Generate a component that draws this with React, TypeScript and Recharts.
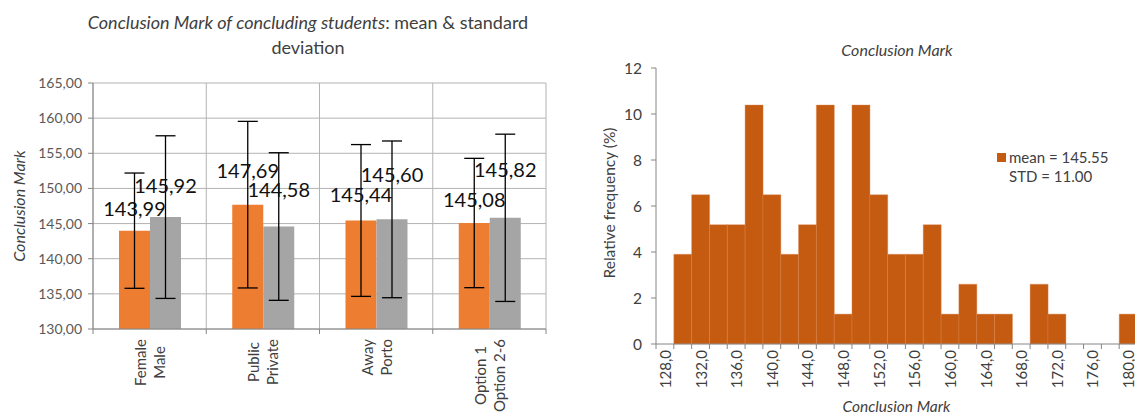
import { Bar, BarChart, CartesianGrid, ErrorBar, LabelList, Legend, XAxis, YAxis } from 'recharts'

// left chart: mean & standard deviation per pair of groups
const groupA = ['Female', 'Public', 'Away', 'Option 1']
const groupB = ['Male', 'Private', 'Porto', 'Option 2-6']
const meanA = [143.99, 147.69, 145.44, 145.08]
const meanB = [145.92, 144.58, 145.6, 145.82]
const sdA = [8.2, 11.85, 10.8, 9.2]
const sdB = [11.57, 10.5, 11.15, 11.9]
const markTicks = [130, 135, 140, 145, 150, 155, 160, 165]

// right chart: histogram of the conclusion mark (bins of 2)
const binStarts = [128, 130, 132, 134, 136, 138, 140, 142, 144, 146, 148, 150, 152, 154, 156, 158, 160, 162, 164, 166, 168, 170, 172, 174, 176, 178, 180]
const relFreq = [0, 3.9, 6.49, 5.19, 5.19, 10.39, 6.49, 3.9, 5.19, 10.39, 1.3, 10.39, 6.49, 3.9, 3.9, 5.19, 1.3, 2.6, 1.3, 1.3, 0, 2.6, 1.3, 0, 0, 0, 1.3]
const freqTicks = [0, 2, 4, 6, 8, 10, 12]
const meanText = 'mean = 145.55'
const stdText = 'STD = 11.00'

// label lift above the bar top (labels were hand placed in the original)
const liftA = [23, 35, 26, 24]
const liftB = [32, 38, 45, 49]

const FONT = 'Lato, "Open Sans", sans-serif'
const AXIS = '#868686'
const GRID = '#b3b3b3'

const fmt = (v: number, d: number) => v.toFixed(d).replace('.', ',')

let ctx: CanvasRenderingContext2D | null = null
function textWidth(text: string, size: number) {
  if (!ctx) ctx = document.createElement('canvas').getContext('2d')
  if (!ctx) return text.length * size * 0.5
  ctx.font = `${size}px Lato`
  return ctx.measureText(text).width
}

const groupData = groupA.map((a, i) => ({
  key: `${a}\n${groupB[i]}`,
  a: meanA[i],
  b: meanB[i],
  sdA: sdA[i],
  sdB: sdB[i],
}))

const histData = binStarts.map((bin, i) => ({ bin: fmt(bin, 1), freq: relFreq[i] }))

function GroupTick(props: any) {
  const { x, y, payload, index, visibleTicksCount } = props
  const half = payload.offset ?? 56.6
  const lines = String(payload.value).split('\n')
  const size = 15
  const longest = Math.max(...lines.map((l) => textWidth(l, size)))
  const shift = 10 + longest / 2
  return (
    <g>
      <line x1={x - half} x2={x - half} y1={y} y2={y + 5} stroke={AXIS} />
      {index === visibleTicksCount - 1 && <line x1={x + half} x2={x + half} y1={y} y2={y + 5} stroke={AXIS} />}
      <g transform={`translate(${x},${y}) rotate(-90)`}>
        {lines.map((l, i) => (
          <text
            key={i}
            x={-shift}
            y={(i - (lines.length - 1) / 2) * 19}
            textAnchor="middle"
            dominantBaseline="central"
            fontSize={size}
            fontFamily={FONT}
            fill="#404040"
          >
            {l}
          </text>
        ))}
      </g>
    </g>
  )
}

function HistTick(props: any) {
  const { x, y, payload, index, visibleTicksCount } = props
  const half = payload.offset ?? 8.9
  return (
    <g>
      <line x1={x - half} x2={x - half} y1={y} y2={y + 5} stroke={AXIS} />
      {index === visibleTicksCount - 1 && <line x1={x + half} x2={x + half} y1={y} y2={y + 5} stroke={AXIS} />}
      {index % 2 === 0 && (
        <text
          transform={`translate(${x},${y + 6}) rotate(-90)`}
          textAnchor="end"
          dominantBaseline="central"
          fontSize={15}
          fontFamily={FONT}
          fill="#404040"
        >
          {payload.value}
        </text>
      )}
    </g>
  )
}

const meanLabel = (lift: number[]) => (p: any) => {
  const { x, y, width, value, index } = p
  return (
    <text
      x={Number(x) + Number(width) / 2}
      y={Number(y) - lift[index]}
      textAnchor="middle"
      dominantBaseline="central"
      fontSize={20}
      fontFamily={FONT}
      fill="#111"
    >
      {fmt(Number(value), 2)}
    </text>
  )
}

export default function App() {
  return (
    <div style={{ position: 'absolute', left: 0, top: 0, width: 1135, height: 415, overflow: 'hidden', background: '#fff', fontFamily: FONT }}>
      <div style={{ position: 'absolute', left: 0, top: 10, width: 616, textAlign: 'center', fontSize: 18, lineHeight: '25px', color: '#404040' }}>
        <i>Conclusion Mark of concluding students</i>: mean &amp; standard
        <br />
        deviation
      </div>
      <div style={{ position: 'absolute', left: 0, top: 0 }}>
        <BarChart width={560} height={415} data={groupData} margin={{ top: 83, right: 14, bottom: 0, left: 0 }} barGap={0} barSize={31}>
          <CartesianGrid
            stroke={GRID}
            verticalCoordinatesGenerator={({ offset }: any) => [0, 1, 2, 3, 4].map((i) => offset.left + (i * offset.width) / 4)}
          />
          <XAxis
            dataKey="key"
            height={86}
            interval={0}
            tickLine={false}
            tickSize={0}
            tickMargin={0}
            stroke={AXIS}
            tick={<GroupTick />}
          />
          <YAxis
            domain={[130, 165]}
            ticks={markTicks}
            allowDataOverflow
            width={93}
            tickSize={5}
            tickMargin={6}
            stroke={AXIS}
            tick={{ fill: '#595959', fontSize: 14, fontFamily: FONT }}
            tickFormatter={(v: number) => fmt(v, 2)}
            label={{
              content: ({ viewBox }: any) => (
                <text
                  transform={`translate(${viewBox.x + 18},${viewBox.y + viewBox.height / 2}) rotate(-90)`}
                  textAnchor="middle"
                  dominantBaseline="central"
                  fontSize={16}
                  fontStyle="italic"
                  fontFamily={FONT}
                  fill="#404040"
                >
                  Conclusion Mark
                </text>
              ),
            }}
          />
          <Bar dataKey="a" fill="#ED7D31" isAnimationActive={false}>
            <ErrorBar dataKey="sdA" width={10} stroke="#000" strokeWidth={1.3} direction="y" isAnimationActive={false} />
            <LabelList dataKey="a" content={meanLabel(liftA)} />
          </Bar>
          <Bar dataKey="b" fill="#A5A5A5" isAnimationActive={false}>
            <ErrorBar dataKey="sdB" width={10} stroke="#000" strokeWidth={1.3} direction="y" isAnimationActive={false} />
            <LabelList dataKey="b" content={meanLabel(liftB)} />
          </Bar>
        </BarChart>
      </div>

      <div style={{ position: 'absolute', left: 690, top: 39, width: 414, textAlign: 'center', fontSize: 16, lineHeight: '22px', fontStyle: 'italic', color: '#404040' }}>
        Conclusion Mark
      </div>
      <div style={{ position: 'absolute', left: 590, top: 0 }}>
        <BarChart width={547} height={415} data={histData} margin={{ top: 68, right: 0, bottom: 0, left: 0 }} barCategoryGap={0}>
          <XAxis
            dataKey="bin"
            height={71}
            interval={0}
            tickLine={false}
            tickSize={0}
            tickMargin={0}
            stroke={AXIS}
            tick={<HistTick />}
            label={{
              content: ({ viewBox }: any) => (
                <text
                  x={viewBox.x + viewBox.width / 2}
                  y={viewBox.y + viewBox.height - 9}
                  textAnchor="middle"
                  dominantBaseline="central"
                  fontSize={15.5}
                  fontStyle="italic"
                  fontFamily={FONT}
                  fill="#404040"
                >
                  Conclusion Mark
                </text>
              ),
            }}
          />
          <YAxis
            domain={[0, 12]}
            ticks={freqTicks}
            width={66}
            tickSize={5}
            tickMargin={9}
            stroke={AXIS}
            tick={{ fill: '#404040', fontSize: 15.5, fontFamily: FONT }}
            label={{
              content: ({ viewBox }: any) => (
                <text
                  transform={`translate(${viewBox.x + 19},${viewBox.y + viewBox.height / 2 - 3}) rotate(-90)`}
                  textAnchor="middle"
                  dominantBaseline="central"
                  fontSize={15.5}
                  fontFamily={FONT}
                  fill="#404040"
                >
                  Relative frequency (%)
                </text>
              ),
            }}
          />
          <Legend
            layout="horizontal"
            verticalAlign="middle"
            align="center"
            wrapperStyle={{ left: 407, top: 148, width: 'auto' }}
            content={() => (
              <div style={{ fontSize: 15, lineHeight: '19px', color: '#404040', fontFamily: FONT }}>
                <div style={{ display: 'flex', alignItems: 'center' }}>
                  <span style={{ display: 'inline-block', width: 9, height: 9, background: '#C55A11', marginRight: 3 }} />
                  {meanText}
                </div>
                <div style={{ paddingLeft: 12 }}>{stdText}</div>
              </div>
            )}
          />
          <Bar dataKey="freq" name={meanText} fill="#C55A11" stroke="#DE8D5C" strokeWidth={0.4} isAnimationActive={false} />
        </BarChart>
      </div>
    </div>
  )
}
